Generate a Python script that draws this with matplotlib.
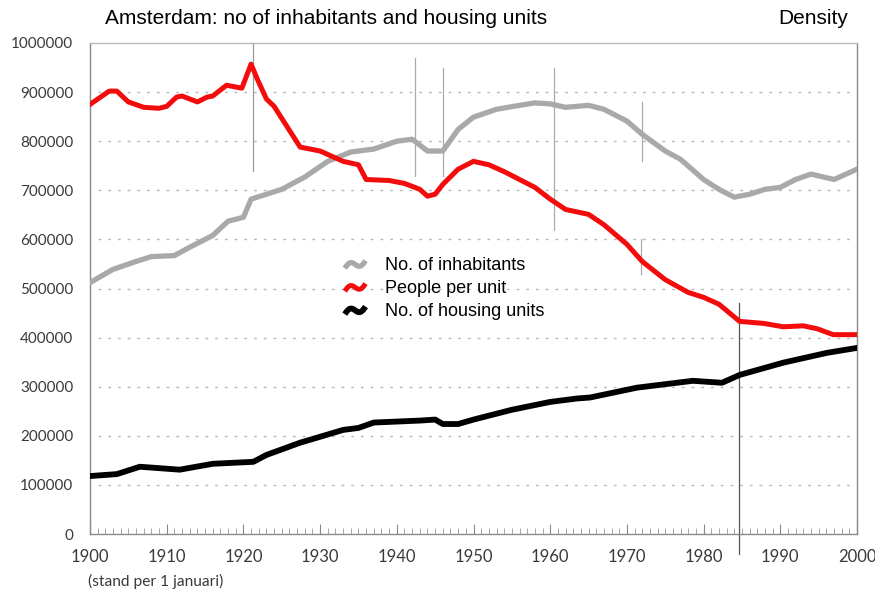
import numpy as np
import matplotlib
matplotlib.use('Agg')
import matplotlib.pyplot as plt
from matplotlib.lines import Line2D
from matplotlib.legend_handler import HandlerLine2D

# no. of inhabitants
inh_years = [1900, 1903, 1906, 1908, 1911, 1913, 1916, 1918, 1920, 1921, 1925, 1928,
             1931, 1934, 1937, 1940, 1942, 1944, 1946, 1948, 1950, 1953, 1956, 1958,
             1960, 1962, 1965, 1967, 1970, 1972, 1975, 1977, 1980, 1982, 1984, 1986,
             1988, 1990, 1992, 1994, 1997, 2000]
inh_values = [512000, 539000, 555000, 565000, 567000, 584000, 608000, 637000, 645000,
              682000, 702000, 727000, 759000, 778000, 784000, 800000, 804000, 780000,
              780000, 824000, 849000, 865000, 873000, 878000, 876000, 869000, 873000,
              865000, 841000, 814000, 780000, 763000, 722000, 702000, 686000, 692000,
              702000, 706000, 722000, 733000, 722000, 743000]

# people per unit (scaled)
ppu_years = [1900, 1902.5, 1903.5, 1905, 1907, 1909, 1910, 1911.3, 1912, 1914, 1915.3,
             1916, 1917.8, 1919.8, 1921, 1921.8, 1923, 1924, 1927.4, 1930, 1933, 1935,
             1936, 1939, 1941, 1943, 1944, 1945, 1946, 1948, 1950, 1952, 1954, 1956,
             1958, 1960, 1962, 1965, 1967, 1970, 1972, 1975, 1978, 1980, 1982, 1984.7,
             1987.8, 1990.4, 1993, 1994.8, 1996.9, 2000]
ppu_values = [875000, 902000, 902000, 880000, 869000, 867000, 871000, 890000, 892000,
              880000, 890000, 892000, 914000, 908000, 957000, 927000, 886000, 871000,
              788000, 780000, 759000, 752000, 722000, 720000, 714000, 702000, 688000,
              692000, 712000, 743000, 759000, 752000, 738000, 722000, 706000, 682000,
              661000, 651000, 630000, 590000, 555000, 518000, 492000, 482000, 468000,
              433000, 429000, 422000, 424000, 418000, 406000, 406000]

# no. of housing units
hu_years = [1900, 1903.5, 1906.5, 1911.7, 1916, 1921.3, 1923, 1927.4, 1930, 1933, 1935,
            1937, 1940, 1943, 1945, 1946, 1948, 1950, 1955, 1960, 1963.5, 1965.2, 1971.3,
            1978.6, 1982.4, 1984.7, 1990.4, 1996.1, 2000]
hu_values = [118000, 122000, 137000, 131000, 143000, 147000, 161000, 186000, 198000,
             212000, 216000, 227000, 229000, 231000, 233000, 224000, 224000, 233000,
             253000, 269000, 276000, 278000, 298000, 312000, 308000, 324000, 349000,
             369000, 379000]

labels = ['No. of inhabitants', 'People per unit', 'No. of housing units']
yticks = np.arange(0, 1000001, 100000)
xticks = np.arange(1900, 2001, 10)


class SquiggleHandler(HandlerLine2D):
    # little "~" shaped handle like the hand-drawn legend
    def create_artists(self, legend, orig_handle, xdescent, ydescent, width, height,
                       fontsize, trans):
        t = np.linspace(0, 1, 30)
        xs = -xdescent + width * t
        ys = -ydescent + height * (0.15 + 0.6 * t + 0.28 * np.sin(2 * np.pi * t))
        ln = Line2D(xs, ys, color=orig_handle.get_color(),
                    lw=orig_handle.get_linewidth(), solid_capstyle='butt')
        ln.set_transform(trans)
        return [ln]


fig = plt.figure(figsize=(8.75, 5.97), dpi=100)
ax = fig.add_axes([90 / 875, 1 - 534 / 597, 767 / 875, 491 / 597])

for y in yticks[1:-1]:
    ax.axhline(y, xmin=0.01, xmax=0.995, color='#b8b8b8', lw=1, ls=(0, (2, 5)), zorder=1)

# pencil marks on the scan
marks = [(1921.2, 0.74, 1.0, '#999999'), (1942.4, 0.73, 0.97, '#aaaaaa'),
         (1946.0, 0.73, 0.95, '#aaaaaa'), (1960.5, 0.62, 0.95, '#aaaaaa'),
         (1972.0, 0.76, 0.88, '#aaaaaa'), (1971.8, 0.53, 0.60, '#aaaaaa'),
         (1984.6, -0.04, 0.47, '#555555')]
for x, y0, y1, c in marks:
    ax.axvline(x, ymin=y0, ymax=y1, color=c, lw=0.9, zorder=2, clip_on=False)

l1, = ax.plot(inh_years, inh_values, color='#a9a9a9', lw=3.8, zorder=3,
              solid_joinstyle='round', label=labels[0])
l2, = ax.plot(ppu_years, ppu_values, color='#f20c0c', lw=3.6, zorder=4,
              solid_joinstyle='round', label=labels[1])
l3, = ax.plot(hu_years, hu_values, color='#000000', lw=4.2, zorder=5,
              solid_joinstyle='round', label=labels[2])

ax.set_xlim(1900, 2000)
ax.set_ylim(0, 1000000)
ax.set_xticks(xticks)
ax.set_xticks(np.arange(1900, 2001, 1), minor=True)
ax.set_yticks(yticks)
ax.set_yticklabels([str(v) for v in yticks])
ax.tick_params(axis='x', which='major', direction='in', length=7, color='#888888',
               labelsize=12, labelcolor='#3a3a3a', pad=11)
ax.tick_params(axis='x', which='minor', direction='in', length=4.5, color='#999999')
ax.tick_params(axis='y', length=0, labelsize=11, labelcolor='#3a3a3a', pad=12)
for lab in ax.get_xticklabels() + ax.get_yticklabels():
    lab.set_family('Lato')

for s in ['left', 'right', 'bottom']:
    ax.spines[s].set_color('#888888')
    ax.spines[s].set_linewidth(1)
ax.spines['top'].set_color('#bbbbbb')
ax.spines['top'].set_linewidth(1)

leg = ax.legend(handles=[l1, l2, l3], loc='upper left', bbox_to_anchor=(0.311, 0.597),
                frameon=False, handlelength=1.15, handletextpad=1.1, labelspacing=0.33,
                prop={'family': 'Liberation Sans', 'size': 13},
                handler_map={Line2D: SquiggleHandler()})

fig.text(105 / 875, 1 - 18 / 597, 'Amsterdam: no of inhabitants and housing units',
         family='Liberation Sans', fontsize=15, va='center', ha='left')
fig.text(848 / 875, 1 - 18 / 597, 'Density', family='Liberation Sans', fontsize=15,
         va='center', ha='right')
fig.text(88 / 875, 1 - 581 / 597, '(stand per 1 januari)', family='Lato', fontsize=11.2,
         color='#3a3a3a', va='center', ha='left')

fig.savefig('out.png', dpi=100)
